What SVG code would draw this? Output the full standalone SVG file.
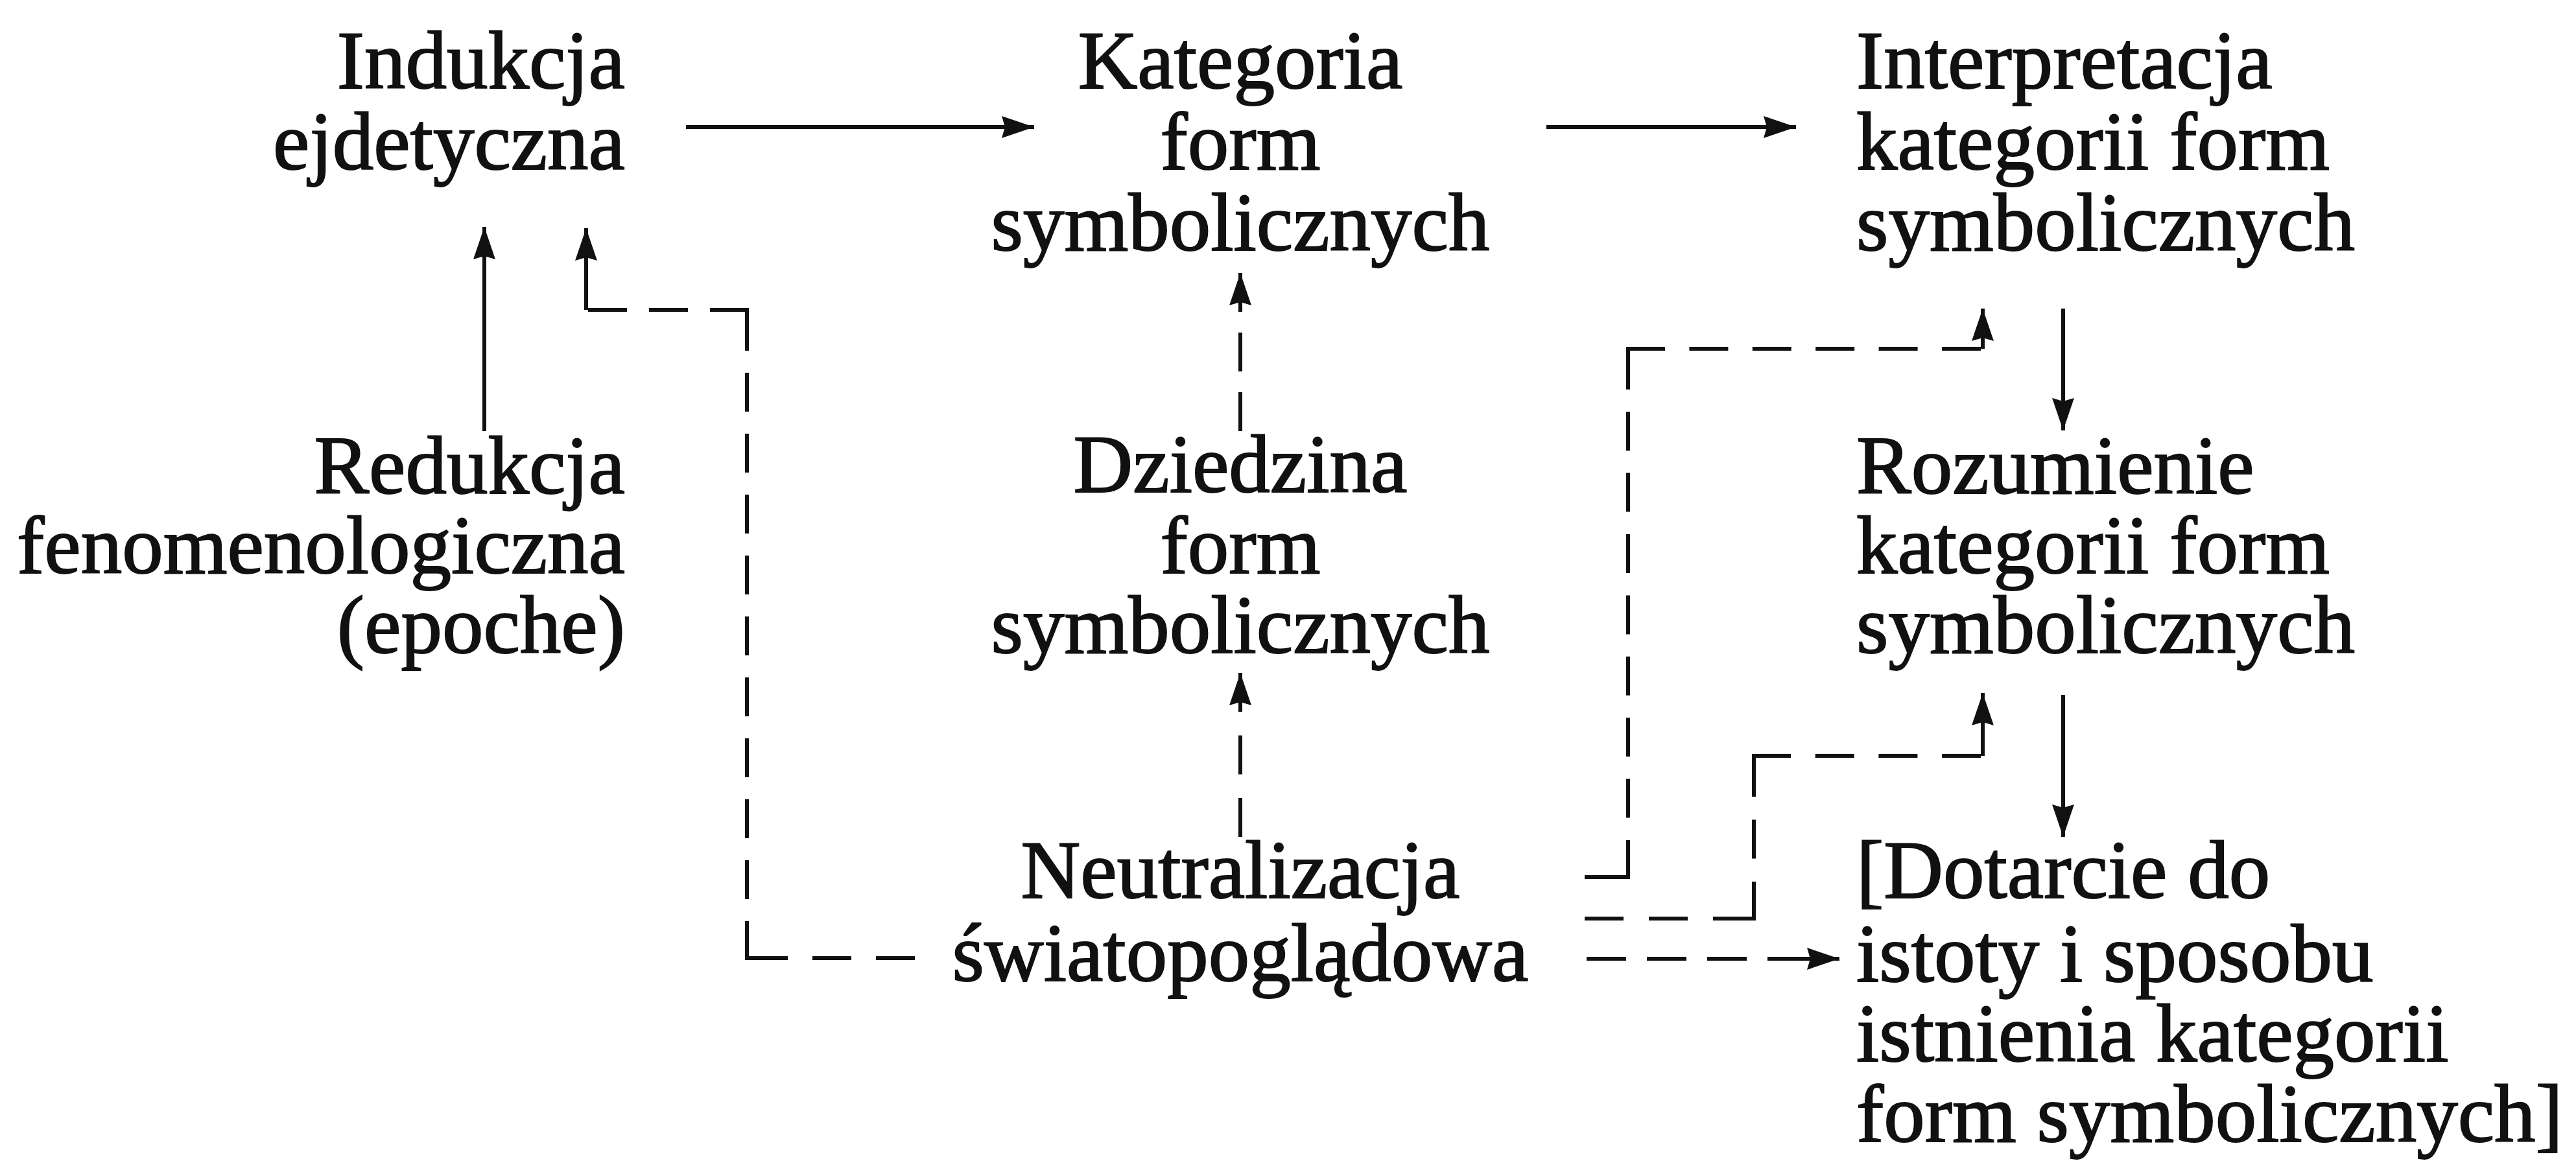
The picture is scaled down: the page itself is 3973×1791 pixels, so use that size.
<svg xmlns="http://www.w3.org/2000/svg" width="3973" height="1791" viewBox="0 0 3973 1791">
<style>
.t{font-family:"Liberation Serif","Times New Roman",serif;font-size:127px;fill:#111;stroke:#111;stroke-width:2;}
.s{stroke:#111;stroke-width:6;fill:none;stroke-linecap:butt;}
.d{stroke:#111;stroke-width:6;fill:none;stroke-linecap:square;}
.db{stroke:#111;stroke-width:6;fill:none;stroke-linecap:butt;}
</style>
<defs>
<marker id="ah" viewBox="0 0 50 34" markerUnits="userSpaceOnUse" markerWidth="50" markerHeight="34" refX="50" refY="17" orient="auto">
<path d="M0,0 L50,17 L0,34 L5,17 Z" fill="#111"/>
</marker>
</defs>
<rect x="0" y="0" width="3973" height="1791" fill="#fff"/>

<g id="n-indukcja"><text class="t" text-anchor="end"><tspan x="964" y="136">Indukcja</tspan><tspan x="964" y="261">ejdetyczna</tspan></text></g>
<g id="n-redukcja"><text class="t" text-anchor="end"><tspan x="964" y="761">Redukcja</tspan><tspan x="964" y="884">fenomenologiczna</tspan><tspan x="964" y="1007">(epoche)</tspan></text></g>
<g id="n-kategoria"><text class="t" text-anchor="middle"><tspan x="1913" y="136">Kategoria</tspan><tspan x="1913" y="261">form</tspan><tspan x="1913" y="386">symbolicznych</tspan></text></g>
<g id="n-dziedzina"><text class="t" text-anchor="middle"><tspan x="1913" y="759">Dziedzina</tspan><tspan x="1913" y="884">form</tspan><tspan x="1913" y="1007">symbolicznych</tspan></text></g>
<g id="n-neutralizacja"><text class="t" text-anchor="middle"><tspan x="1913" y="1385">Neutralizacja</tspan><tspan x="1913" y="1513">światopoglądowa</tspan></text></g>
<g id="n-interpretacja"><text class="t"><tspan x="2863" y="136">Interpretacja</tspan><tspan x="2863" y="261">kategorii form</tspan><tspan x="2863" y="386">symbolicznych</tspan></text></g>
<g id="n-rozumienie"><text class="t"><tspan x="2863" y="761">Rozumienie</tspan><tspan x="2863" y="884">kategorii form</tspan><tspan x="2863" y="1007">symbolicznych</tspan></text></g>
<g id="n-dotarcie"><text class="t"><tspan x="2863" y="1385">[Dotarcie do</tspan><tspan x="2863" y="1514">istoty i sposobu</tspan><tspan x="2863" y="1637">istnienia kategorii</tspan><tspan x="2863" y="1761">form symbolicznych]</tspan></text></g>

<g id="connectors">
<!-- solid arrows -->
<line class="s" x1="1058" y1="196" x2="1595" y2="196" marker-end="url(#ah)"/>
<line class="s" x1="2385" y1="196" x2="2770" y2="196" marker-end="url(#ah)"/>
<line class="s" x1="747" y1="665" x2="747" y2="350" marker-end="url(#ah)"/>
<line class="s" x1="3182" y1="476" x2="3182" y2="664" marker-end="url(#ah)"/>
<line class="s" x1="3182" y1="1072" x2="3182" y2="1291" marker-end="url(#ah)"/>

<!-- Neutralizacja -> Indukcja -->
<line class="d" x1="1408" y1="1478" x2="1152" y2="1478" stroke-dasharray="54 44"/>
<line class="d" x1="1152" y1="1478" x2="1152" y2="478" stroke-dasharray="54 40"/>
<line class="d" x1="1152" y1="478" x2="904" y2="478" stroke-dasharray="54 40"/>
<line class="s" x1="904" y1="478" x2="904" y2="352" marker-end="url(#ah)"/>

<!-- Dziedzina -> Kategoria -->
<line class="db" x1="1913" y1="665" x2="1913" y2="421" stroke-dasharray="60 32" marker-end="url(#ah)"/>
<!-- Neutralizacja -> Dziedzina -->
<line class="db" x1="1913" y1="1291" x2="1913" y2="1038" stroke-dasharray="60 36.5" marker-end="url(#ah)"/>

<!-- Neutralizacja -> Interpretacja -->
<line class="d" x1="2447" y1="1353" x2="2511" y2="1353"/>
<line class="d" x1="2511" y1="1353" x2="2511" y2="538" stroke-dasharray="54 40.4"/>
<line class="d" x1="2511" y1="538" x2="3058" y2="538" stroke-dasharray="54 43.4"/>
<line class="s" x1="3058" y1="538" x2="3058" y2="476" marker-end="url(#ah)"/>

<!-- Neutralizacja -> Rozumienie -->
<line class="d" x1="2447" y1="1417" x2="2705" y2="1417" stroke-dasharray="54 45"/>
<line class="d" x1="2705" y1="1417" x2="2705" y2="1166" stroke-dasharray="54 41.5"/>
<line class="d" x1="2705" y1="1166" x2="3058" y2="1166" stroke-dasharray="54 43.7"/>
<line class="s" x1="3058" y1="1166" x2="3058" y2="1069" marker-end="url(#ah)"/>

<!-- Neutralizacja -> Dotarcie -->
<line class="db" x1="2447" y1="1479" x2="2837" y2="1479" stroke-dasharray="61 32 61 32 61 32 111" marker-end="url(#ah)"/>
</g>
</svg>
